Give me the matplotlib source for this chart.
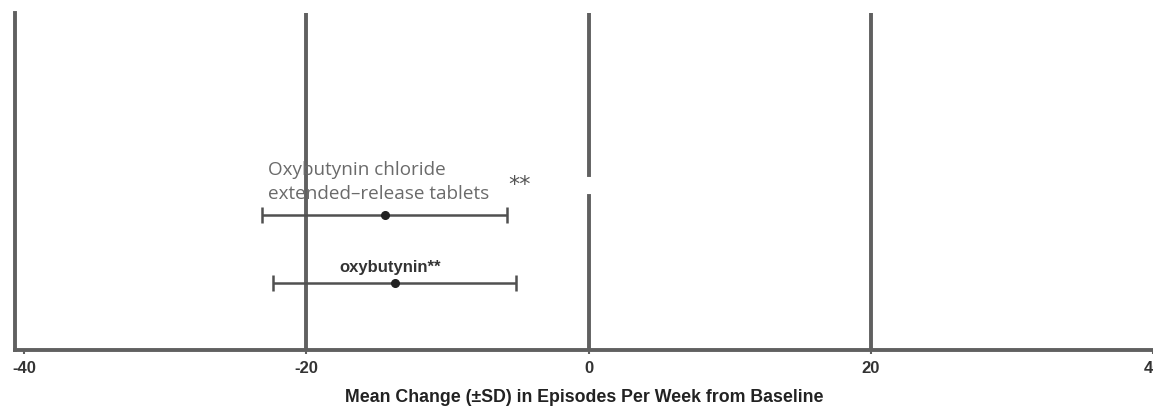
import matplotlib
matplotlib.use("Agg")
import matplotlib.pyplot as plt

treatments = ["Oxybutynin chloride\nextended\u2013release tablets", "oxybutynin**"]
means = [-14.45, -13.75]
sds = [8.7, 8.6]
ypos = [2.0, 1.0]
xticks = [-40, -20, 0, 20, 40]
xticklabels = ["-40", "-20", "0", "20", "40"]

fig = plt.figure(figsize=(11.53, 4.08), dpi=100)
ax = fig.add_axes([15/1153, 58/408, 1 - 15/1153, (350-13)/408])
ax.set_xlim(-40.65, 40.0)
ax.set_ylim(0, 5)

gc = "#606060"
for g in [-20, 20]:
    ax.axvline(g, color=gc, lw=2.8, zorder=1)
ax.axvline(0, ymin=0, ymax=2.28/5, color=gc, lw=2.8, zorder=1)
ax.axvline(0, ymin=2.6/5, ymax=1, color=gc, lw=2.8, zorder=1)

ax.errorbar(means, ypos, xerr=sds, fmt='o', color="#222222", ecolor="#505050",
            elinewidth=1.8, capsize=6, capthick=1.8, markersize=5.5, zorder=3)

ax.text(-22.7, 2.18, treatments[0], fontsize=13.6, color="#6a6a6a",
        family="Open Sans", ha="left", va="bottom", linespacing=1.45)
ax.text(-5.7, 2.3, "**", fontsize=16, color="#555555", ha="left", va="bottom")
ax.text(-14.05, 1.22, treatments[1], fontsize=12, color="#333333",
        fontweight="bold", family="Liberation Sans", ha="center", va="center")

for s in ["top", "right"]:
    ax.spines[s].set_visible(False)
ax.spines["left"].set_color(gc)
ax.spines["left"].set_linewidth(2.8)
ax.spines["bottom"].set_color(gc)
ax.spines["bottom"].set_linewidth(2.8)
ax.set_yticks([])
ax.set_xticks(xticks)
ax.set_xticklabels(xticklabels, fontsize=12, fontweight="bold", family="Liberation Sans", color="#333333")
ax.tick_params(axis="x", length=3, width=1.5, color=gc, pad=5)
ax.set_xlabel("Mean Change (\u00b1SD) in Episodes Per Week from Baseline", fontsize=12.8,
              fontweight="bold", family="Liberation Sans", color="#222222", labelpad=9)

fig.savefig("out.png", dpi=100)
